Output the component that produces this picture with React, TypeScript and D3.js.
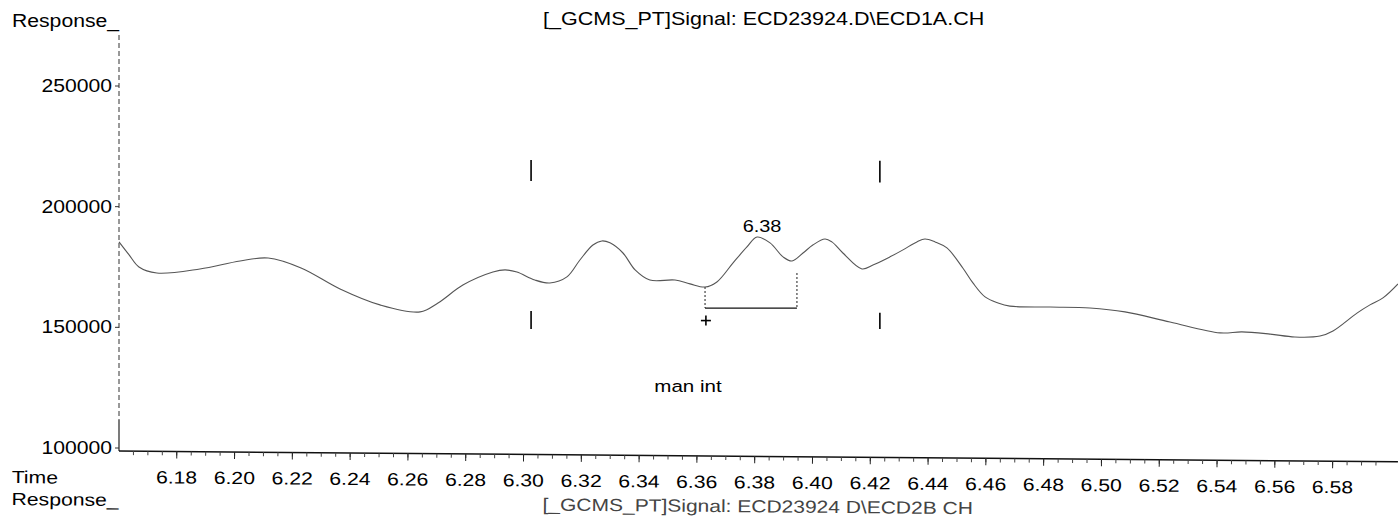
import React, { useEffect } from "react";
import * as d3 from "d3";

// ---- data ----
const times = [
  6.16, 6.1635, 6.1669, 6.1731, 6.188, 6.2019, 6.2116, 6.223, 6.2365, 6.2503,
  6.2642, 6.2704, 6.279, 6.2894, 6.2936, 6.2977, 6.3039, 6.3091, 6.315, 6.3195,
  6.324, 6.3271, 6.3299, 6.3344, 6.3386, 6.3437, 6.3524, 6.3576, 6.3628, 6.3669,
  6.3725, 6.3773, 6.3808, 6.3853, 6.3898, 6.3929, 6.3967, 6.4001, 6.4043, 6.4067,
  6.4105, 6.4171, 6.4209, 6.4268, 6.4313, 6.4361, 6.4389, 6.4424, 6.4465, 6.452,
  6.4555, 6.4597, 6.4642, 6.4683, 6.4822, 6.496, 6.5081, 6.5237, 6.541, 6.5486,
  6.5583, 6.5669, 6.5756, 6.5801, 6.5884, 6.5929, 6.5974, 6.6026,
];
const responses = [
  185400, 180000, 175000, 172500, 174200, 177500, 178700, 174600, 165900, 159300,
  156400, 160100, 167500, 172900, 173800, 172900, 169600, 168400, 170900, 177900,
  184100, 185800, 185000, 180800, 173800, 169600, 169600, 168000, 166700, 168800,
  176700, 183300, 187400, 185000, 179200, 177500, 180800, 184100, 186600, 185400,
  180800, 174200, 175800, 179200, 182100, 185400, 186600, 185400, 182900, 174600,
  168400, 162600, 160100, 158800, 158400, 158000, 156400, 152200, 147700, 148100,
  147200, 146000, 146400, 148500, 155900, 159300, 162200, 168000,
];

const yTicks = [100000, 150000, 200000, 250000];
const xTickLabels = [
  "6.18", "6.20", "6.22", "6.24", "6.26", "6.28", "6.30", "6.32", "6.34", "6.36", "6.38",
  "6.40", "6.42", "6.44", "6.46", "6.48", "6.50", "6.52", "6.54", "6.56", "6.58",
];

const topTitle = "[_GCMS_PT]Signal: ECD23924.D\\ECD1A.CH";
const bottomTitle = "[_GCMS_PT]Signal: ECD23924 D\\ECD2B CH";
const yLabel = "Response_";
const xLabel = "Time";

const peakLabels = ["6.38"];
const peakTimes = [6.3808];
const peakResponses = [187400];

const markerTimes = [6.3026, 6.4233];
const markerUpperLow = [210600, 210000];
const markerUpperHigh = [219300, 219000];
const markerLowerLow = [149300, 149300];
const markerLowerHigh = [156800, 156000];

const integTimes = [6.3628, 6.3946];
const integTopResponses = [166700, 172500];
const integBaseResponse = 158000;
const plusPoint = [6.3631, 152800];

const annotationText = "man int";
const annotationTime = 6.3569;
const annotationResponse = 123000;

// ---- layout ----
const W = 1398;
const H = 517;
const FONT = "'Liberation Sans', Arial, Helvetica, sans-serif";
const FS = 17.5;
const SX = 1.21;

function T({ x, y, children, anchor = "start", fill = "#000", size = FS, sx = SX }: any) {
  return (
    <text
      transform={`translate(${x},${y}) scale(${sx},1)`}
      textAnchor={anchor}
      fontFamily={FONT}
      fontSize={size}
      fill={fill}
    >
      {children}
    </text>
  );
}

export default function App() {
  useEffect(() => {
    document.body.style.margin = "0";
  }, []);

  const x = d3.scaleLinear().domain([6.16, 6.6026]).range([119, 1398]);
  const y = d3.scaleLinear().domain([100000, 250000]).range([448, 86]);
  const axisY = 451;

  const pts: [number, number][] = times.map((t, i) => [t, responses[i]]);
  const line = d3
    .line<[number, number]>()
    .x((d) => x(d[0]))
    .y((d) => y(d[1]))
    .curve(d3.curveCatmullRom.alpha(0.5));

  const minorTicks = d3.range(6.165, 6.6, 0.005);

  return (
    <svg width={W} height={H} style={{ display: "block", background: "#fff" }}>
      {/* top labels */}
      <T x={12} y={27}>{yLabel}</T>
      <T x={543} y={25} sx={1.23}>{topTitle}</T>

      {/* y axis */}
      <line x1={119} x2={119} y1={35} y2={420} stroke="#333" strokeWidth={1} strokeDasharray="5 3" />
      <line x1={119} x2={119} y1={420} y2={axisY} stroke="#222" strokeWidth={1.2} />
      {yTicks.map((v) => (
        <g key={v}>
          <line x1={115} x2={119} y1={y(v)} y2={y(v)} stroke="#333" />
          <T x={112} y={y(v) + 6} anchor="end">{String(v)}</T>
        </g>
      ))}

      {/* x axis (scan is slightly tilted) */}
      <g transform={`rotate(0.48,119,${axisY})`}>
        <line x1={119} x2={W} y1={axisY} y2={axisY} stroke="#111" strokeWidth={1.5} />
        {minorTicks.map((t, i) => (
          <line key={i} x1={x(t)} x2={x(t)} y1={axisY} y2={axisY + 4} stroke="#444" strokeWidth={1} />
        ))}
        {xTickLabels.map((s) => (
          <g key={s}>
            <line x1={x(+s)} x2={x(+s)} y1={axisY} y2={axisY + 7} stroke="#222" strokeWidth={1} />
            <T x={x(+s)} y={axisY + 32} anchor="middle">{s}</T>
          </g>
        ))}
        <T x={12} y={484}>{xLabel}</T>
        <T x={12} y={506}>{yLabel}</T>
        <T x={543} y={507} fill="#444" sx={1.2}>{bottomTitle}</T>
      </g>

      {/* trace */}
      <path d={line(pts) || ""} fill="none" stroke="#555" strokeWidth={1.1} />

      {/* integration event markers */}
      {markerTimes.map((t, i) => (
        <g key={i}>
          <line x1={x(t)} x2={x(t)} y1={y(markerUpperLow[i])} y2={y(markerUpperHigh[i])} stroke="#000" strokeWidth={1.6} />
          <line x1={x(t)} x2={x(t)} y1={y(markerLowerLow[i])} y2={y(markerLowerHigh[i])} stroke="#000" strokeWidth={1.6} />
        </g>
      ))}

      {/* manual integration baseline */}
      {integTimes.map((t, i) => (
        <line key={i} x1={x(t)} x2={x(t)} y1={y(integTopResponses[i])} y2={y(integBaseResponse)} stroke="#444" strokeWidth={1.2} strokeDasharray="2 2" />
      ))}
      <line x1={x(integTimes[0])} x2={x(integTimes[1])} y1={y(integBaseResponse)} y2={y(integBaseResponse)} stroke="#111" strokeWidth={1.2} />
      <g stroke="#000" strokeWidth={1.6}>
        <line x1={x(plusPoint[0]) - 5} x2={x(plusPoint[0]) + 5} y1={y(plusPoint[1])} y2={y(plusPoint[1])} />
        <line x1={x(plusPoint[0])} x2={x(plusPoint[0])} y1={y(plusPoint[1]) - 5} y2={y(plusPoint[1]) + 5} />
      </g>

      {/* peak label */}
      {peakLabels.map((s, i) => (
        <T key={s} x={x(peakTimes[i]) + 5} y={y(peakResponses[i]) - 5} anchor="middle" size={16.5}>{s}</T>
      ))}

      <T x={x(annotationTime)} y={y(annotationResponse)} anchor="middle" size={17}>{annotationText}</T>
    </svg>
  );
}
